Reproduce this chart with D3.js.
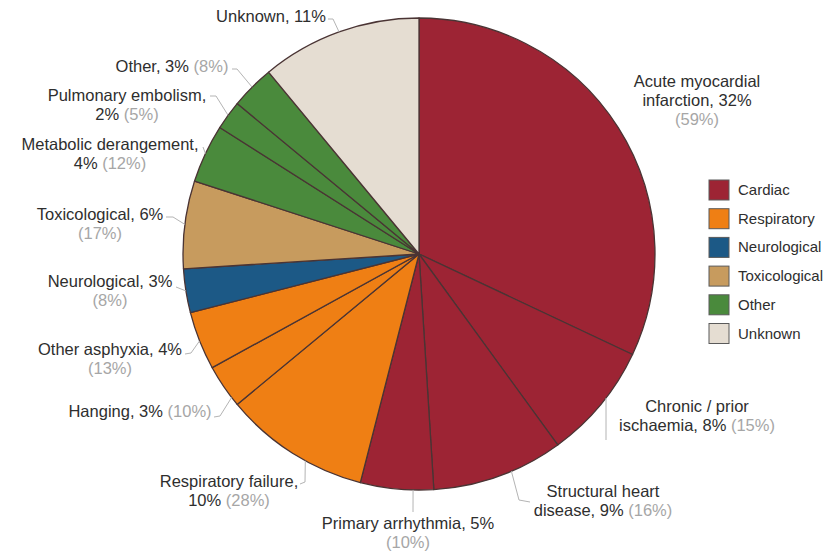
<!DOCTYPE html>
<html>
<head>
<meta charset="utf-8">
<script src="https://cdn.jsdelivr.net/npm/d3@7"></script>
<style>
  html, body { margin: 0; padding: 0; background: #fff; }
  svg { display: block; font-family: "Liberation Sans", Arial, sans-serif; }
</style>
</head>
<body>
<svg id="chart" width="840" height="551"></svg>
<script>
// Causes of death, clockwise from 12 o'clock
const causes = [
  "Acute myocardial infarction", "Chronic / prior ischaemia", "Structural heart disease",
  "Primary arrhythmia", "Respiratory failure", "Hanging", "Other asphyxia",
  "Neurological", "Toxicological", "Metabolic derangement", "Pulmonary embolism",
  "Other", "Unknown"
];
// Share of all deaths (%)
const shareAll = [32, 8, 9, 5, 10, 3, 4, 3, 6, 4, 2, 3, 11];
// Share within the cause group (%), null where not shown
const shareGroup = [59, 15, 16, 10, 28, 10, 13, 8, 17, 12, 5, 8, null];
// Group each cause belongs to
const causeGroup = [
  "Cardiac", "Cardiac", "Cardiac", "Cardiac", "Respiratory", "Respiratory", "Respiratory",
  "Neurological", "Toxicological", "Other", "Other", "Other", "Unknown"
];
const groups = ["Cardiac", "Respiratory", "Neurological", "Toxicological", "Other", "Unknown"];
const groupColors = ["#9d2434", "#ef7f14", "#1c5986", "#c79b5e", "#4a8a3c", "#e5ddd2"];

// Label text split into lines; each line is [dark part, grey part]
const labelLines = [
  [["Acute myocardial", ""], ["infarction, 32%", ""], ["", "(59%)"]],
  [["Chronic / prior", ""], ["ischaemia, 8% ", "(15%)"]],
  [["Structural heart", ""], ["disease, 9% ", "(16%)"]],
  [["Primary arrhythmia, 5%", ""], ["", "(10%)"]],
  [["Respiratory failure,", ""], ["10% ", "(28%)"]],
  [["Hanging, 3% ", "(10%)"]],
  [["Other asphyxia, 4%", ""], ["", "(13%)"]],
  [["Neurological, 3%", ""], ["", "(8%)"]],
  [["Toxicological, 6%", ""], ["", "(17%)"]],
  [["Metabolic derangement,", ""], ["4% ", "(12%)"]],
  [["Pulmonary embolism,", ""], ["2% ", "(5%)"]],
  [["Other, 3% ", "(8%)"]],
  [["Unknown, 11%", ""]]
];

// ---- layout ----
const cx = 419, cy = 254, R = 236;
const fontSize = 16.5, lineGap = 19;
// label centre x, first baseline y, where along the slice the leader meets the rim,
// and the leader's bend points
const labelLayout = [
  {x: 697, y: 87,  at: 0.5,  leader: null},
  {x: 697, y: 412, at: 0.43, leader: [[606, 440]]},
  {x: 603, y: 497, at: 0.4,  leader: [[519, 500], [530, 502]]},
  {x: 408, y: 529, at: 0.28, leader: [[413, 512]]},
  {x: 229, y: 487, at: 0.4,  leader: [[305, 482], [300, 484]]},
  {x: 140, y: 417, at: 0.2,  leader: [[220, 416], [214, 417]]},
  {x: 110, y: 355, at: 0.5,  leader: [[191, 353], [185, 354]]},
  {x: 110, y: 287, at: 0.5,  leader: [[176, 287]]},
  {x: 100, y: 220, at: 0.5,  leader: [[173, 217], [166, 217]]},
  {x: 110, y: 150, at: 0.5,  leader: [[203, 147]]},
  {x: 127, y: 101, at: 0.5,  leader: [[216, 96], [210, 96]]},
  {x: 172, y: 72,  at: 0.5,  leader: [[237, 69], [232, 69]]},
  {x: 271, y: 22,  at: 0.5,  leader: [[333, 19], [328, 19]]}
];

const svg = d3.select("#chart");
const color = d3.scaleOrdinal().domain(groups).range(groupColors);

const slices = d3.pie().sort(null).value(i => shareAll[i])(d3.range(causes.length));
const arc = d3.arc().innerRadius(0).outerRadius(R);

const pieG = svg.append("g").attr("transform", `translate(${cx},${cy})`);

pieG.selectAll("path.slice")
  .data(slices)
  .join("path")
  .attr("class", "slice")
  .attr("d", arc)
  .attr("fill", d => color(causeGroup[d.data]))
  .attr("stroke", "#4a3434")
  .attr("stroke-width", 1.3)
  .attr("stroke-linejoin", "round");

// leader lines from the rim to each label
const rimPoint = (d, t) => {
  const a = d.startAngle + (d.endAngle - d.startAngle) * t;
  return [cx + R * Math.sin(a), cy - R * Math.cos(a)];
};
const line = d3.line();
slices.forEach((d, i) => {
  const lay = labelLayout[i];
  if (!lay.leader) return;
  const pts = [rimPoint(d, lay.at), ...lay.leader];
  svg.append("path")
    .attr("d", line(pts))
    .attr("fill", "none")
    .attr("stroke", "#b4b4b4")
    .attr("stroke-width", 1);
});

// labels
slices.forEach((d, i) => {
  const lay = labelLayout[i];
  labelLines[i].forEach((ln, k) => {
    const t = svg.append("text")
      .attr("x", lay.x)
      .attr("y", lay.y + k * lineGap)
      .attr("text-anchor", "middle")
      .attr("font-size", fontSize);
    if (ln[0]) t.append("tspan").attr("fill", "#2e2e2e").text(ln[0]);
    if (ln[1]) t.append("tspan").attr("fill", "#a6a6a6").text(ln[1]);
  });
});

// legend
const legend = svg.append("g").attr("transform", "translate(709,180)");
const lgItem = legend.selectAll("g")
  .data(groups)
  .join("g")
  .attr("transform", (g, i) => `translate(0,${i * 28.7})`);
lgItem.append("rect")
  .attr("width", 20).attr("height", 20)
  .attr("fill", g => color(g))
  .attr("stroke", "#5a5a5a").attr("stroke-width", 1);
lgItem.append("text")
  .attr("x", 29).attr("y", 15)
  .attr("font-size", 15)
  .attr("fill", "#2e2e2e")
  .text(g => g);
</script>
</body>
</html>
